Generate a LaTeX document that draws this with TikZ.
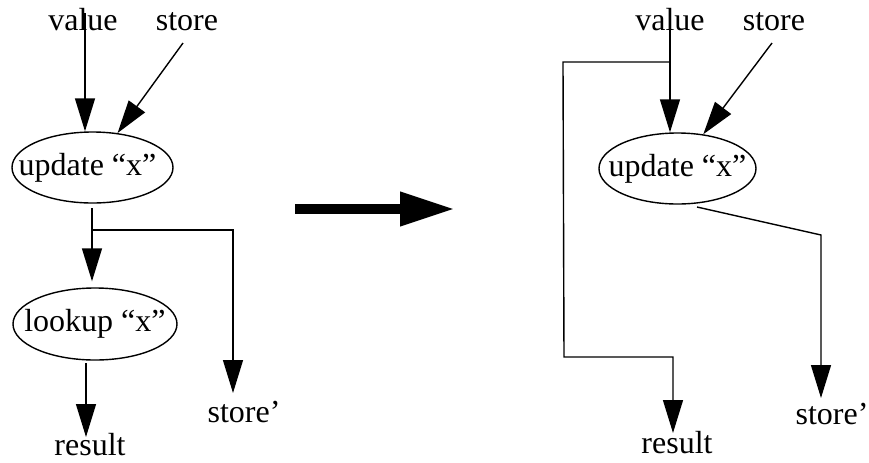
\documentclass[tikz,border=0pt]{standalone}
\usepackage{fontspec}
\setmainfont{Liberation Serif}
\usetikzlibrary{shapes.geometric,arrows.meta}
\begin{document}
\begin{tikzpicture}[x=0.5pt,y=-0.5pt,
  lbl/.style={font=\fontsize{16}{19}\selectfont, inner sep=0, anchor=base},
  oval/.style={draw, ellipse, line width=0.7pt, inner sep=0, minimum width=80.5pt, minimum height=35.5pt, font=\fontsize{16}{19}\selectfont},
  arr/.style={line width=0.7pt, -{Triangle[length=16.5pt,width=10pt]}},
  ln/.style={line width=0.7pt},
  big/.style={line width=5pt, -{Triangle[length=27.5pt,width=16pt]}}]
\useasboundingbox (0,0) rectangle (869,462);
% left diagram
\node[lbl] (va) at (83,30) {value};
\node[lbl] (sa) at (187,30) {store};
\node[oval, minimum width=80.5pt] (ua) at (92.5,167.5) {\makebox[0pt]{\hspace*{-5pt}update “x”}};
\node[oval, minimum width=82pt, minimum height=36pt] (la) at (95,324) {\makebox[0pt]{lookup “x”}};
\node[lbl] (ra) at (90,455) {result};
\node[lbl] (spa) at (244,422) {store’};
\coordinate (va0) at (85,13);
\coordinate (sa0) at (183,43);
\coordinate (ua0) at (92,208);
\coordinate (ba) at (92,230);
\coordinate (ta) at (233,393);
\coordinate (la0) at (86,363);
\coordinate (ra0) at (86,437);
\draw[arr] (va0) -- (va0 |- ua.north);
\draw[arr] (sa0) -- (ua);
\draw[arr, shorten >=3pt] (ua0) -- (ua0 |- la.north);
\draw[arr] (ba) -| (ta);
\draw[arr] (la0) -- (ra0);
% big arrow
\coordinate (g0) at (295,209);
\coordinate (g1) at (455,209);
\draw[big] (g0) -- (g1);
% right diagram
\node[lbl] (vb) at (670,30) {value};
\node[lbl] (sb) at (774,30) {store};
\node[oval, minimum width=78.5pt] (ub) at (677.5,168.5) {\makebox[0pt]{update “x”}};
\node[lbl] (rb) at (677,453) {result};
\node[lbl] (spb) at (832,424) {store’};
\coordinate (vb0) at (670,13);
\coordinate (sb0) at (772,43);
\coordinate (bb) at (670,62);
\coordinate (cb1) at (563,62);
\coordinate (cb2) at (564,357);
\coordinate (cb3) at (673,357);
\coordinate (tb) at (673,433);
\coordinate (ub0) at (697,207);
\coordinate (kb) at (821,235);
\coordinate (tb2) at (821,398);
\draw[arr] (vb0) -- (vb0 |- ub.north);
\draw[arr] (sb0) -- (ub);
\draw[arr] (bb) -- (cb1) -- (cb2) -- (cb3) -- (tb);
\draw[arr] (ub0) -- (kb) -- (tb2);
\end{tikzpicture}
\end{document}
